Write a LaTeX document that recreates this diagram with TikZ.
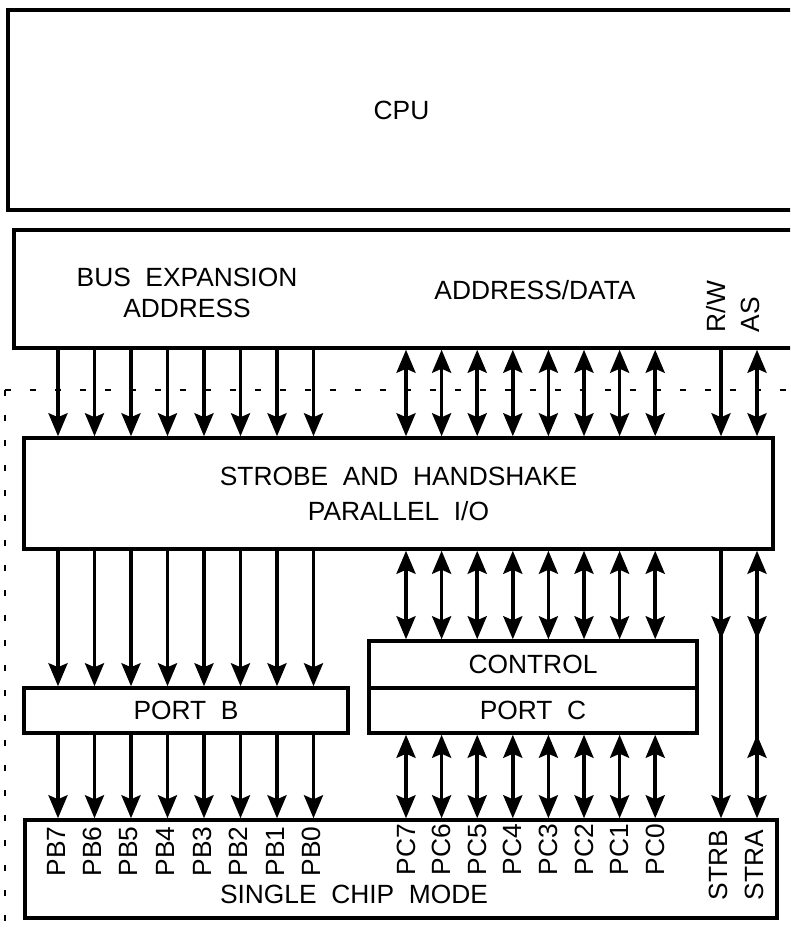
\documentclass[tikz,border=0pt]{standalone}
\usepackage{fontspec}
\setmainfont{Liberation Sans}[WordSpace=2]
\usetikzlibrary{arrows.meta}

\begin{document}
\begin{tikzpicture}[x=0.02cm,y=-0.02cm,line width=2pt,
font=\fontsize{15}{20}\selectfont,
>={Stealth[length=0.46cm,width=0.38cm,inset=0.08cm]}]
\tikzstyle{B}=[draw,inner sep=0pt,align=center]
\tikzstyle{T}=[inner sep=0pt,align=center]
\tikzstyle{V}=[inner sep=0pt,rotate=90,anchor=west]
\tikzstyle{dots}=[line width=1.6pt,dash pattern=on 0.12cm off 0.38cm]
\useasboundingbox (0,0) rectangle (790,928);
\clip (0,0) rectangle (790,928);

% chip boundary
\coordinate (corner) at (5,390);
\draw[dots] (corner) -- (795,390);
\draw[dots] (corner) -- (5,935);

% blocks
\node[B,minimum width=15.74cm,minimum height=4cm] (cpu) at (401.5,110) {CPU};
\node[B,minimum width=15.62cm,minimum height=2.36cm] (bus) at (404.5,289) {};
\node[B,minimum width=14.98cm,minimum height=2.22cm] (pio) at (398.5,493.5)
  {STROBE AND HANDSHAKE\\PARALLEL I/O};
\node[B,minimum width=6.48cm,minimum height=0.9cm] (portb) at (186,710.5) {PORT B};
\node[B,minimum width=6.56cm,minimum height=0.94cm] (ctrl) at (533,664.5) {CONTROL};
\node[B,minimum width=6.56cm,minimum height=0.9cm] (portc) at (533,710.5) {PORT C};
\node[B,minimum width=15.04cm,minimum height=1.96cm] (chip) at (401,869) {};

% texts of the bus block
\node[T,font=\fontsize{15}{17.6}\selectfont] (exp) at (187,293) {BUS EXPANSION\\ADDRESS};
\node[T] (ad) at (535,290) {ADDRESS/DATA};
\node[V] (rw) at (716,334) {R/W};
\node[V] (as) at (750,334) {AS};
\node[T] (mode) at (354,894) {SINGLE CHIP MODE};

% pin columns
\foreach \i in {0,...,7}{
  \coordinate (b\i) at ({58+36.5*\i},0);
  \coordinate (c\i) at ({406+35.6*\i},0);
}
\coordinate (strb) at (721,0);
\coordinate (stra) at (757,0);

\foreach \i in {0,...,7}{
  \draw[->] (b\i |- bus.south) -- (b\i |- pio.north);
  \draw[->] (b\i |- pio.south) -- (b\i |- portb.north);
  \draw[->] (b\i |- portb.south) -- (b\i |- chip.north);
  \draw[<->] (c\i |- bus.south) -- (c\i |- pio.north);
  \draw[<->] (c\i |- pio.south) -- (c\i |- ctrl.north);
  \draw[<->] (c\i |- portc.south) -- (c\i |- chip.north);
}

% strobe lines
\draw[->] (strb |- bus.south) -- (strb |- pio.north);
\draw[->] (strb |- pio.south) -- (strb |- ctrl.north);
\draw ([yshift=0.2cm]strb |- ctrl.north) -- (strb |- portc.south);
\draw[->] (strb |- portc.south) -- (strb |- chip.north);
\draw[<->] (stra |- bus.south) -- (stra |- pio.north);
\draw[<->] (stra |- pio.south) -- (stra |- ctrl.north);
\draw ([yshift=0.2cm]stra |- ctrl.north) -- ([yshift=-0.2cm]stra |- portc.south);
\draw[<->] (stra |- portc.south) -- (stra |- chip.north);

% pin names
\foreach \n [count=\i from 0] in {7,6,...,0}{
  \node[V] (pb\n) at ([xshift=-0.04cm]b\i |- 0,878) {PB\n};
  \node[V] (pc\n) at (c\i |- 0,877) {PC\n};
}
\node[V] (strbl) at ([xshift=-0.06cm]strb |- 0,902) {STRB};
\node[V] (stral) at ([xshift=-0.06cm]stra |- 0,902) {STRA};
\end{tikzpicture}
\end{document}
